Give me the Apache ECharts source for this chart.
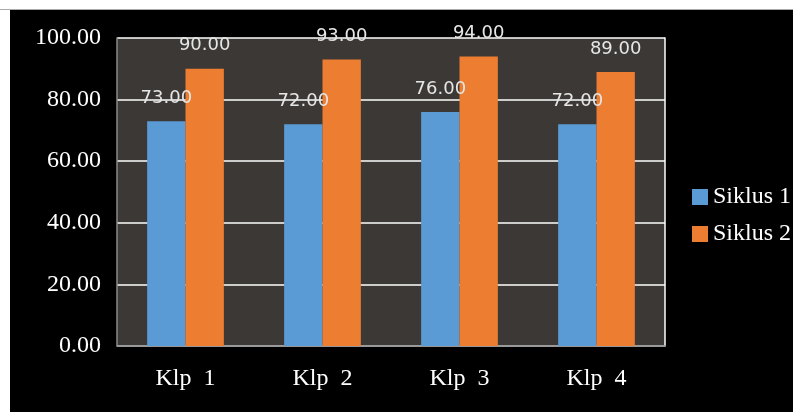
<!DOCTYPE html>
<html><head><meta charset="utf-8">
<script src="https://cdn.jsdelivr.net/npm/echarts@6/dist/echarts.min.js"></script>
<style>
html,body{margin:0;padding:0;background:#fff;width:793px;height:412px;overflow:hidden;}
#frame{position:absolute;left:0;top:0;width:793px;height:9px;border-bottom:1px solid #aaa;}
#c{position:absolute;left:10px;top:10px;width:783px;height:402px;}
</style></head>
<body><div id="frame"></div><div id="c"></div>
<script>
const categories = ['Klp  1', 'Klp  2', 'Klp  3', 'Klp  4'];
const siklus1 = [73, 72, 76, 72];
const siklus2 = [90, 93, 94, 89];
const seriesNames = ['Siklus 1', 'Siklus 2'];
const yTicks = { min: 0, max: 100, interval: 20 };

const chart = echarts.init(document.getElementById('c'));
const serif = 'Liberation Serif';
const labelStyle = {
  show: true, position: 'top', distance: 14,
  color: '#e6e6e6', fontFamily: 'DejaVu Sans', fontSize: 18,
  formatter: p => p.value.toFixed(2)
};
chart.setOption({
  backgroundColor: '#000',
  animation: false,
  grid: { left: 107, top: 28, right: 128, bottom: 66, show: true, backgroundColor: '#3b3836', borderWidth: 0 },
  legend: {
    orient: 'vertical', left: 677, top: 170, itemWidth: 16, itemHeight: 16, itemGap: 13,
    icon: 'rect',
    textStyle: { color: '#fff', fontFamily: serif, fontSize: 24 },
    data: seriesNames
  },
  xAxis: {
    type: 'category', data: categories,
    axisLine: { lineStyle: { color: '#8a8a8a', width: 1.5 } },
    axisTick: { show: false },
    axisLabel: { color: '#fff', fontFamily: serif, fontSize: 24, margin: 21 }
  },
  yAxis: [{
    type: 'value', min: yTicks.min, max: yTicks.max, interval: yTicks.interval,
    axisLine: { show: true, lineStyle: { color: '#8a8a8a', width: 1.5 } },
    axisTick: { show: false },
    splitLine: { lineStyle: { color: '#fff', width: 1.5 } },
    axisLabel: { color: '#fff', fontFamily: serif, fontSize: 24, margin: 16, formatter: v => v.toFixed(2) }
  }, {
    type: 'value', position: 'right', min: yTicks.min, max: yTicks.max, interval: yTicks.interval,
    axisLine: { show: true, lineStyle: { color: '#fff', width: 1.5 } },
    axisTick: { show: false }, axisLabel: { show: false }, splitLine: { show: false }
  }],
  series: [
    { name: seriesNames[0], type: 'bar', data: siklus1, barWidth: '28%', barGap: '0%', itemStyle: { color: '#5b9bd5' }, label: labelStyle, z: 2 },
    { name: seriesNames[1], type: 'bar', data: siklus2, barWidth: '28%', barGap: '0%', itemStyle: { color: '#ed7d31' }, label: labelStyle, z: 2 }
  ]
});
</script></body></html>
